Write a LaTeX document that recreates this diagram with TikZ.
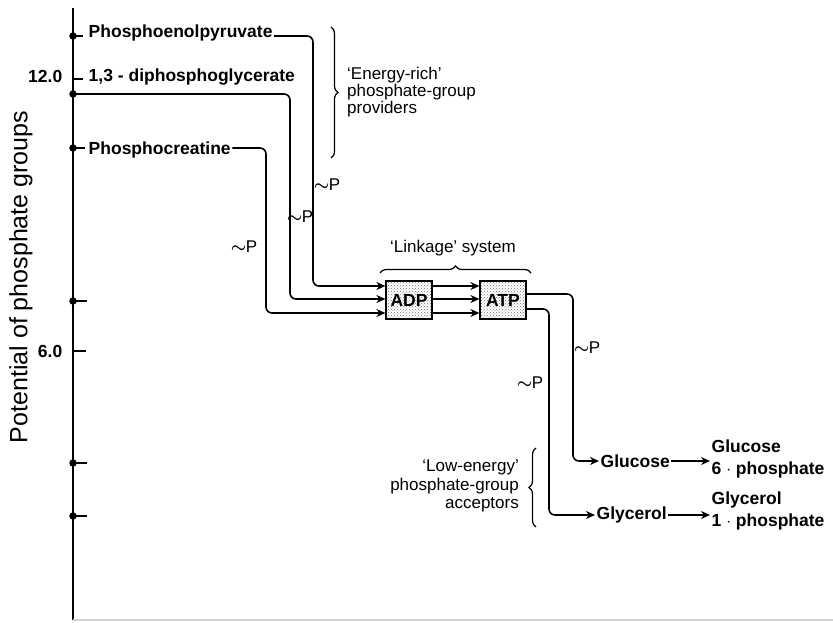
\documentclass[tikz,border=0pt]{standalone}
\usepackage{fontspec}
\setmainfont{Liberation Sans}
\usetikzlibrary{patterns,decorations.pathreplacing,arrows.meta}
\newcommand{\tP}{\raisebox{0.5pt}{\boldmath$\sim$}\kern-0.5pt P}
\begin{document}
\begin{tikzpicture}[x=1pt,y=-1pt,
  txt/.style={font=\fontsize{17}{18.5}\selectfont, inner sep=0pt},
  cmp/.style={font=\fontsize{17.5}{22}\selectfont\bfseries, inner sep=1.5pt},
  wire/.style={line width=1.6pt, rounded corners=6pt},
  flow/.style={wire, -{Stealth[length=9pt,width=8pt]}},
  boxnode/.style={draw, line width=1.2pt, minimum width=46pt, minimum height=38pt, inner sep=0pt,
     pattern=crosshatch dots, pattern color=black!55, font=\fontsize{17.5}{18}\selectfont\bfseries},
  brc/.style={decorate, decoration={brace, amplitude=7pt}, line width=1.2pt},
  dotm/.style={circle, fill, inner sep=0pt, minimum size=7.5pt}
]
\useasboundingbox (0,0) rectangle (833,623);

% axes
\draw[line width=1.4pt] (73,8) -- (73,620);
\draw[line width=1.5pt, black!18] (73,620) -- (833,620);
\node[rotate=90, font=\fontsize{25}{25}\selectfont] (ylab) at (21,277) {Potential of phosphate groups};

% axis points
\node[dotm] (d1) at (73,36) {};
\node[dotm] (d2) at (73,94) {};
\node[dotm] (d3) at (73,148) {};
\node[dotm] (d4) at (73,301) {};
\node[dotm] (d5) at (73,463) {};
\node[dotm] (d6) at (73,516) {};
\draw[line width=1.3pt] (d1.center) -- ++(10,0);
\draw[line width=1.3pt] (d3.center) -- ++(12,0);
\draw[line width=1.3pt] (d4.center) -- ++(14,0);
\draw[line width=1.3pt] (d5.center) -- ++(14,0);
\draw[line width=1.3pt] (d6.center) -- ++(14,0);
\coordinate (t12) at (73,79);
\coordinate (t6) at (73,351);
\draw[line width=1.3pt] (t12) -- ++(10,0);
\draw[line width=1.3pt] (t6) -- ++(13,0);
\node[cmp, anchor=base east] (n12) at (64,83) {12.0};
\node[cmp, anchor=base east] (n6) at (64,357) {6.0};

% providers
\node[cmp, anchor=base west] (pep) at (87,38) {Phosphoenolpyruvate};
\node[cmp, anchor=base west] (dpg) at (87,82) {1,3 - diphosphoglycerate};
\node[cmp, anchor=base west] (pcr) at (87,155) {Phosphocreatine};

% linkage boxes
\node[boxnode] (adp) at (409,300) {ADP};
\node[boxnode] (atp) at (503,300) {ATP};
\coordinate (r1) at (0,286);
\coordinate (r2) at (0,299);
\coordinate (r3) at (0,313);

\draw[flow] (pep.east |- d1) -- (313,36) -- (313,286) -- (adp.west |- r1);
\draw[flow] (d2.center) -- (290,94) -- (290,299) -- (adp.west |- r2);
\draw[flow] (pcr.east |- d3) -- (266,148) -- (266,313) -- (adp.west |- r3);

\draw[flow] (adp.east |- r1) -- (atp.west |- r1);
\draw[flow] (adp.east |- r2) -- (atp.west |- r2);
\draw[flow] (adp.east |- r3) -- (atp.west |- r3);

% acceptors
\node[cmp, anchor=west] (glc) at (599,461) {Glucose};
\node[cmp, anchor=west] (gly) at (595,515) {Glycerol};
\node[cmp, anchor=west, align=left] (g6p) at (710,459) {Glucose\\6 $\cdot$ phosphate};
\node[cmp, anchor=west, align=left] (g1p) at (710,511) {Glycerol\\1 $\cdot$ phosphate};

\coordinate (o1) at (0,294);
\coordinate (o2) at (0,309);
\draw[flow] (atp.east |- o1) -- (573,294) -- (573,461) -- (glc.west);
\draw[flow] (atp.east |- o2) -- (549,309) -- (549,515) -- (gly.west);
\draw[flow, rounded corners=0pt] (glc.east) -- (glc.east -| g6p.west);
\draw[flow, rounded corners=0pt] (gly.east) -- (gly.east -| g1p.west);

% ~P labels
\node[txt] (p1) at (327,185) {\tP};
\node[txt] (p2) at (300,217) {\tP};
\node[txt] (p3) at (244,247) {\tP};
\node[txt] (p4) at (587,348) {\tP};
\node[txt] (p5) at (530,383) {\tP};

% braces and descriptions
\coordinate (b1a) at (331,27);
\coordinate (b1b) at (331,158);
\draw[brc] (b1a) -- (b1b);
\node[txt, anchor=west, align=left, font=\fontsize{17}{17}\selectfont] (er) at (347,92) {`Energy-rich'\\phosphate-group\\providers};

\coordinate (b2a) at (380,273);
\coordinate (b2b) at (531,273);
\draw[brc] (b2a) -- (b2b);
\node[txt] (lk) at (453,248) {`Linkage' system};

\coordinate (b3a) at (536,527);
\coordinate (b3b) at (536,448);
\draw[brc] (b3a) -- (b3b);
\node[txt, anchor=east, align=right] (le) at (519,486) {`Low-energy'\\phosphate-group\\acceptors};
\end{tikzpicture}
\end{document}
